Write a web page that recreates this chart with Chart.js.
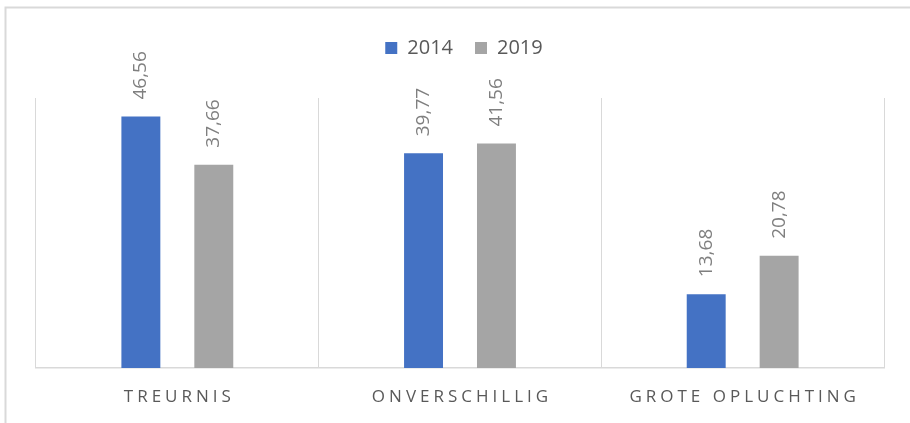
<!DOCTYPE html>
<html>
<head>
<meta charset="utf-8">
<script src="https://cdn.jsdelivr.net/npm/chart.js@4.4.1/dist/chart.umd.min.js"></script>
<style>
  html, body { margin: 0; padding: 0; background: #ffffff; }
  #wrap { width: 910px; height: 423px; }
</style>
</head>
<body>
<div id="wrap"><canvas id="c" width="910" height="423"></canvas></div>
<script>
const categories = ['TREURNIS', 'ONVERSCHILLIG', 'GROTE OPLUCHTING'];
const seriesNames = ['2014', '2019'];
const values2014 = [46.56, 39.77, 13.68];
const values2019 = [37.66, 41.56, 20.78];
const yMin = 0;
const yMax = 50;

const FONT = "'Open Sans', 'Liberation Sans', sans-serif";

function fmt(v) { return v.toFixed(2).replace('.', ','); }

const framePlugin = {
  id: 'frame',
  beforeDraw(chart) {
    const ctx = chart.ctx;
    ctx.save();
    ctx.fillStyle = '#ffffff';
    ctx.fillRect(0, 0, chart.width, chart.height);
    ctx.strokeStyle = '#d9d9d9';
    ctx.lineWidth = 2;
    ctx.beginPath();
    ctx.moveTo(5.5, chart.height + 2);
    ctx.lineTo(5.5, 7.5);
    ctx.lineTo(chart.width + 2, 7.5);
    ctx.stroke();
    ctx.restore();
  }
};

const legendSpacer = {
  id: 'legendSpacer',
  beforeInit(chart) {
    const lg = chart.legend;
    const origFit = lg.fit;
    lg.fit = function () {
      origFit.bind(lg)();
      this.height += 30;
    };
    const origDraw = lg.draw;
    lg.draw = function () {
      const ctx = chart.ctx;
      ctx.save();
      ctx.translate(4, 0);
      origDraw.bind(lg)();
      ctx.restore();
    };
  }
};

const valueLabels = {
  id: 'valueLabels',
  afterDatasetsDraw(chart) {
    const ctx = chart.ctx;
    ctx.save();
    ctx.font = '19px ' + FONT;
    ctx.fillStyle = '#7f7f7f';
    ctx.textAlign = 'left';
    ctx.textBaseline = 'middle';
    chart.data.datasets.forEach((ds, di) => {
      const meta = chart.getDatasetMeta(di);
      meta.data.forEach((el, i) => {
        ctx.save();
        ctx.translate(el.x, el.y - 17);
        ctx.rotate(-Math.PI / 2);
        ctx.fillText(fmt(ds.data[i]), 0, 0);
        ctx.restore();
      });
    });
    ctx.restore();
  }
};

const categoryLabels = {
  id: 'categoryLabels',
  afterDraw(chart) {
    const ctx = chart.ctx;
    const xs = chart.scales.x;
    const spacing = 4;
    ctx.save();
    ctx.font = '17px ' + FONT;
    ctx.fillStyle = '#595959';
    ctx.textAlign = 'left';
    ctx.textBaseline = 'middle';
    categories.forEach((label, i) => {
      const cx = xs.getPixelForValue(i);
      const chars = Array.from(label);
      const widths = chars.map(ch => ctx.measureText(ch).width);
      const total = widths.reduce((a, b) => a + b, 0) + spacing * (chars.length - 1);
      let x = cx - total / 2;
      chars.forEach((ch, k) => {
        ctx.fillText(ch, x, 397);
        x += widths[k] + spacing;
      });
    });
    ctx.restore();
  }
};

new Chart(document.getElementById('c'), {
  type: 'bar',
  data: {
    labels: categories,
    datasets: [
      { label: seriesNames[0], data: values2014, backgroundColor: '#4472c4', borderWidth: 0,
        categoryPercentage: 0.516, barPercentage: 0.534 },
      { label: seriesNames[1], data: values2019, backgroundColor: '#a5a5a5', borderWidth: 0,
        categoryPercentage: 0.516, barPercentage: 0.534 }
    ]
  },
  options: {
    responsive: false,
    animation: false,
    devicePixelRatio: 1,
    layout: { padding: { left: 36, right: 26, top: 16, bottom: 55 } },
    plugins: {
      legend: {
        display: true,
        position: 'top',
        align: 'center',
        labels: {
          boxWidth: 12,
          boxHeight: 12,
          padding: 22,
          color: '#595959',
          font: { family: FONT, size: 20 }
        }
      },
      tooltip: { enabled: false }
    },
    scales: {
      x: {
        display: true,
        offset: true,
        grid: { display: true, offset: true, color: '#d9d9d9', lineWidth: 1, drawTicks: false },
        border: { display: true, color: '#d9d9d9', width: 1.5 },
        ticks: { display: false }
      },
      y: {
        display: false,
        min: yMin,
        max: yMax
      }
    }
  },
  plugins: [framePlugin, legendSpacer, valueLabels, categoryLabels]
});
</script>
</body>
</html>
